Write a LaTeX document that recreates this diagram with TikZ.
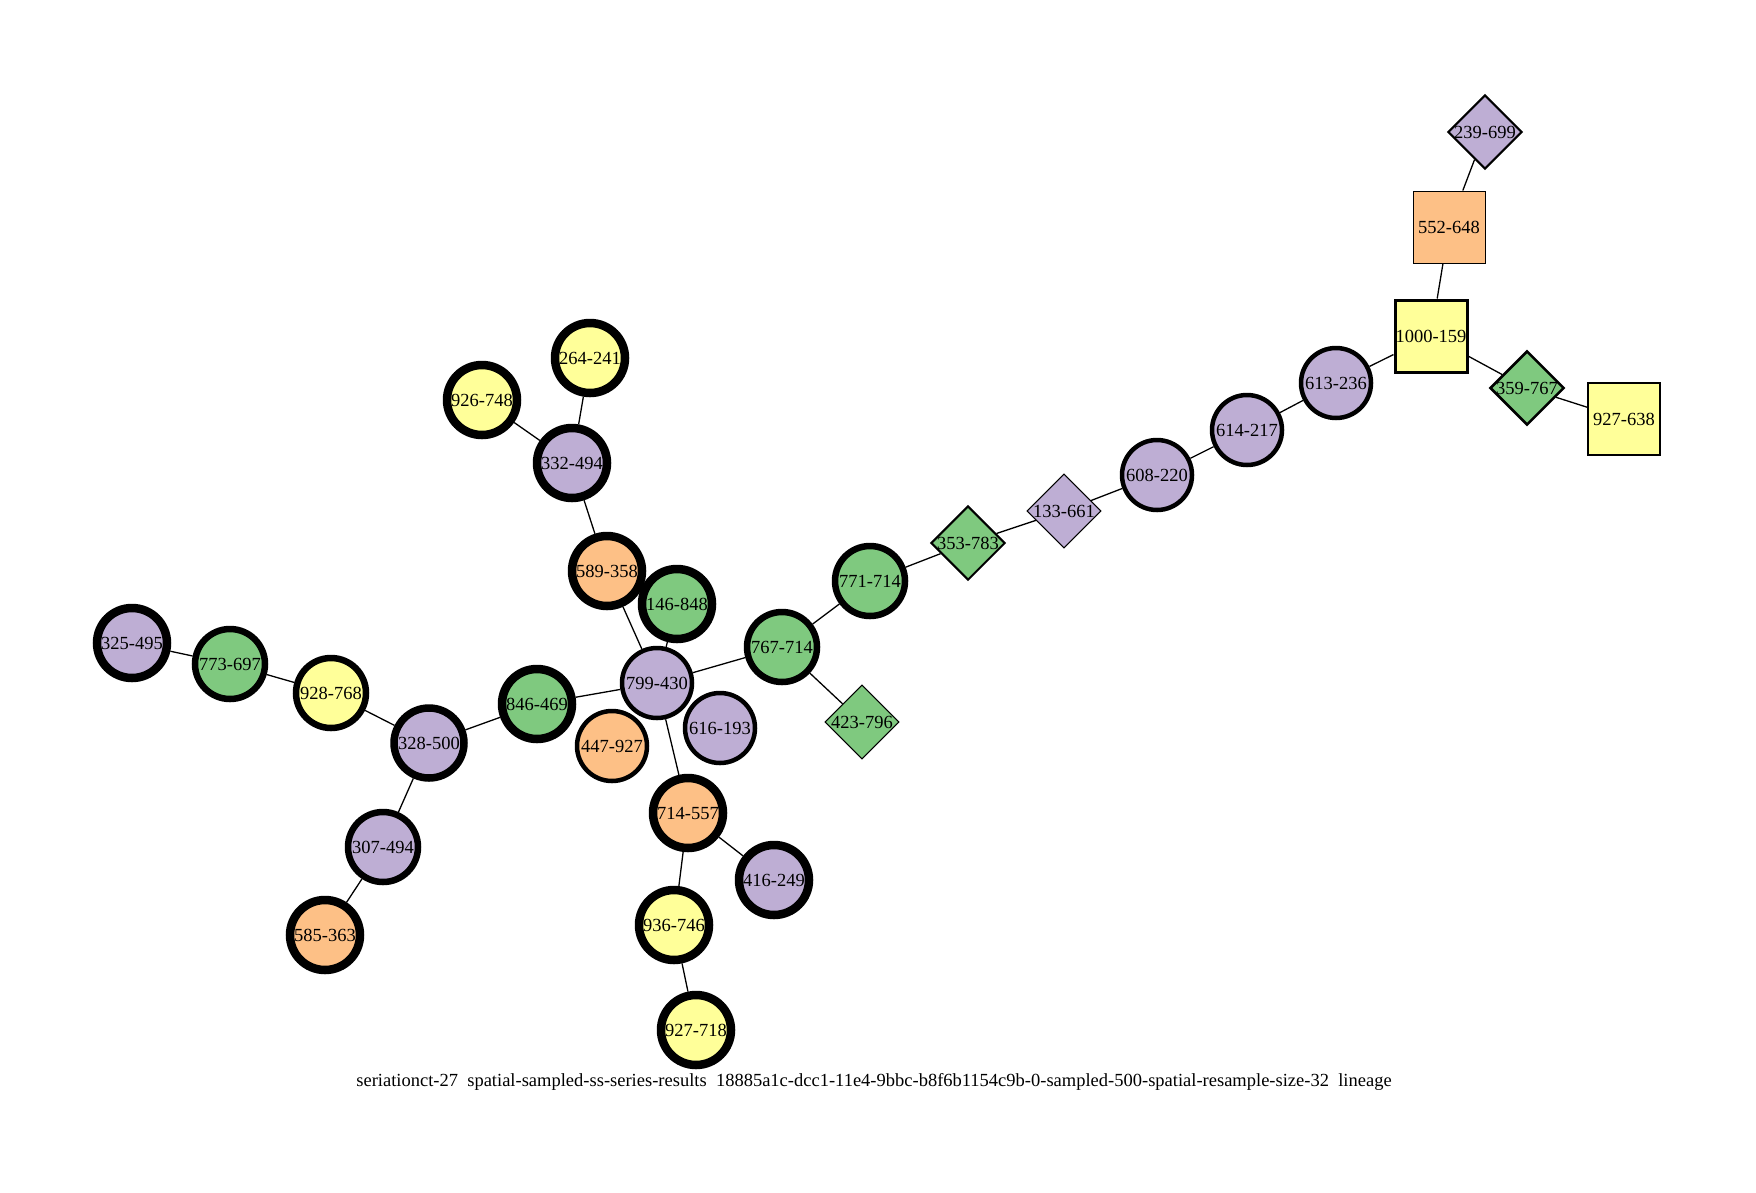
\documentclass[tikz,border=0pt]{standalone}
\usepackage{fontspec}
\setmainfont{Liberation Serif}
\usetikzlibrary{shapes.geometric}

\definecolor{cpurple}{HTML}{BEAED4}
\definecolor{cgreen}{HTML}{7FC97F}
\definecolor{corange}{HTML}{FDC086}
\definecolor{cyellow}{HTML}{FFFF99}

\begin{document}
\begin{tikzpicture}[
  x=1pt, y=-1pt,
  every node/.style={font=\fontsize{18.5}{20}\selectfont, inner sep=0pt, draw, text=black},
  cnode/.style={circle, minimum size=70pt},
  snode/.style={rectangle, minimum size=72pt},
  dnode/.style={diamond, minimum size=72pt},
  penA/.style={line width=4.5pt},
  penB/.style={line width=6.5pt},
  penC/.style={line width=8.5pt},
  link/.style={line width=1.3pt}
]
\useasboundingbox (0,0) rectangle (1756,1192);

% right branch
\node[dnode, fill=cpurple, line width=2pt] (d239) at (1485,132) {239-699};
\node[snode, fill=corange, line width=1pt] (s552) at (1449,227) {552-648};
\node[snode, fill=cyellow, line width=3pt] (s1000) at (1431,336) {1000-159};
\node[dnode, fill=cgreen, line width=2.5pt] (d359) at (1527,388) {359-767};
\node[snode, fill=cyellow, line width=1.5pt] (s927) at (1624,419) {927-638};
\node[cnode, fill=cpurple, penA] (c613) at (1336,383) {613-236};
\node[cnode, fill=cpurple, penA] (c614) at (1247,430) {614-217};
\node[cnode, fill=cpurple, penA] (c608) at (1157,475) {608-220};
\node[dnode, fill=cpurple, line width=1pt] (d133) at (1064,511) {133-661};
\node[dnode, fill=cgreen, line width=2pt] (d353) at (968,543) {353-783};
\node[cnode, fill=cgreen, penB] (c771) at (870,581) {771-714};
\node[cnode, fill=cgreen, penB] (c767) at (782,647) {767-714};
\node[dnode, fill=cgreen, line width=1pt] (d423) at (862,722) {423-796};

% centre
\node[cnode, fill=cpurple, penA] (c799) at (657,683) {799-430};
\node[cnode, fill=cgreen, penC] (c146) at (677,604) {146-848};
\node[cnode, fill=corange, penC] (c589) at (607,571) {589-358};
\node[cnode, fill=cpurple, penC] (c332) at (572,463) {332-494};
\node[cnode, fill=cyellow, penC] (c264) at (590,358) {264-241};
\node[cnode, fill=cyellow, penC] (c926) at (482,400) {926-748};
\node[cnode, fill=cgreen, penC] (c846) at (537,704) {846-469};
\node[cnode, fill=corange, penA] (c447) at (612,746) {447-927};
\node[cnode, fill=cpurple, penA] (c616) at (720,728) {616-193};
\node[cnode, fill=corange, penC] (c714) at (688,813) {714-557};
\node[cnode, fill=cpurple, penC] (c416) at (774,880) {416-249};
\node[cnode, fill=cyellow, penC] (c936) at (674,925) {936-746};
\node[cnode, fill=cyellow, penC] (c927) at (696,1030) {927-718};

% left branch
\node[cnode, fill=cpurple, line width=7.5pt] (c328) at (429,743) {328-500};
\node[cnode, fill=cpurple, penB] (c307) at (383,847) {307-494};
\node[cnode, fill=corange, penC] (c585) at (325,935) {585-363};
\node[cnode, fill=cyellow, penB] (c928) at (331,693) {928-768};
\node[cnode, fill=cgreen, penB] (c773) at (230,664) {773-697};
\node[cnode, fill=cpurple, penC] (c325) at (132,643) {325-495};

\node[draw=none, font=\fontsize{18.5}{20}\selectfont] (caption) at (874,1082)
  {seriationct-27~~spatial-sampled-ss-series-results~~18885a1c-dcc1-11e4-9bbc-b8f6b1154c9b-0-sampled-500-spatial-resample-size-32~~lineage};

\foreach \a/\b in {d239/s552, s552/s1000, s1000/d359, d359/s927, s1000/c613,
  c613/c614, c614/c608, c608/d133, d133/d353, d353/c771, c771/c767,
  c767/d423, c767/c799, c799/c589, c799/c146, c799/c846, c799/c714,
  c589/c332, c332/c264, c332/c926, c846/c328, c328/c928, c928/c773,
  c773/c325, c328/c307, c307/c585, c714/c416, c714/c936, c936/c927}
  \draw[link] (\a) -- (\b);

\end{tikzpicture}
\end{document}
